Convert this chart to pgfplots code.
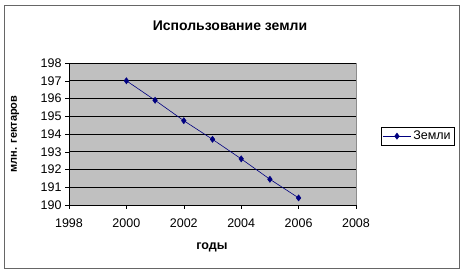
\documentclass[border=0pt]{standalone}
\usepackage{pgfplots}
\pgfplotsset{compat=1.18}
\usepackage{fontspec}
\setmainfont{Liberation Sans}
\definecolor{navyline}{RGB}{0,0,128}
\definecolor{plotgray}{RGB}{192,192,192}
\begin{document}
\begin{tikzpicture}
\useasboundingbox (-69pt,-70pt) rectangle (394pt,205pt);
\draw[black!60, line width=0.8pt] (-65pt,-63pt) rectangle (390pt,200pt);
\node[font=\bfseries\fontsize{14}{16}\selectfont] at (161pt,179pt) {Использование земли};
\begin{axis}[
  at={(0pt,0pt)}, anchor=south west,
  scale only axis, width=287pt, height=142pt,
  xmin=1998, xmax=2008, ymin=190, ymax=198,
  xtick={1998,2000,...,2008}, ytick={190,191,...,198},
  /pgf/number format/assume math mode=true,
  /pgf/number format/1000 sep={},
  ticklabel style={font=\fontsize{12.5}{14}\selectfont},
  x tick label style={yshift=-6pt},
  axis lines=left, axis line style={-, black},
  axis background/.style={fill=plotgray, draw=black!45},
  ymajorgrids, grid style={black, line width=0.6pt},
  tick align=outside, major tick length=4pt, tick style={black},
  xlabel={годы}, ylabel={млн. гектаров},
  every axis x label/.style={at={(axis description cs:0.498,-0.296)}, anchor=center, font=\bfseries\fontsize{12.5}{14}\selectfont},
  every axis y label/.style={at={(axis description cs:-0.188,0.5)}, anchor=center, rotate=90, font=\bfseries\fontsize{11}{13}\selectfont},
  legend style={at={(axis description cs:1.087,0.4225)}, anchor=south west, draw=black, font=\fontsize{12.5}{14}\selectfont, inner sep=1.5pt, row sep=0pt},
  legend image code/.code={
    \draw[mark repeat=2, mark phase=2, #1] plot coordinates {(0pt,0pt) (14pt,0pt) (28pt,0pt)};
  },
  legend cell align=left,
]
\addplot[navyline, line width=0.6pt, mark=diamond*, mark size=3pt, mark options={fill=navyline}] coordinates {
(2000,197.0) (2001,195.9) (2002,194.75) (2003,193.7) (2004,192.6) (2005,191.45) (2006,190.4)
};
\addlegendentry{Земли}
\end{axis}
\end{tikzpicture}
\end{document}
